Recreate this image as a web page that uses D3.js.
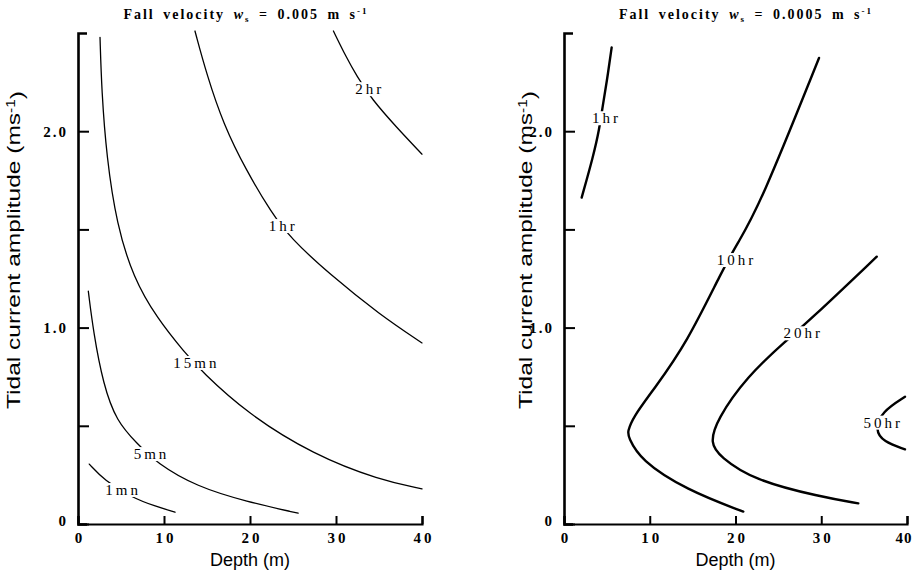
<!DOCTYPE html>
<html>
<head>
<meta charset="utf-8">
<script src="https://cdn.jsdelivr.net/npm/d3@7/dist/d3.min.js"></script>
<style>
  body { margin: 0; background: #fff; }
  svg { display: block; }
</style>
</head>
<body>
<svg id="chart" width="913" height="579"></svg>
<script>
// Time for suspended sediment to settle, as contours over
// water depth (m) and tidal current amplitude (m/s).

const depthTicks = [0, 10, 20, 30, 40];
const ampTicks = [0, 0.5, 1.0, 1.5, 2.0];
const ampTickLabels = ["0", "", "1.0", "", "2.0"];

// Fall velocity 0.005 m/s : [depth, amplitude]
const fast1mn = [[1.31, 0.305], [3.02, 0.224], [6.43, 0.131], [8.9, 0.092], [11.28, 0.06]];
const fast5mn = [[1.2, 1.185], [1.78, 0.981], [2.94, 0.709], [4.5, 0.522], [6.82, 0.412],
                 [9.15, 0.31], [13.8, 0.19], [19.6, 0.114], [25.6, 0.055]];
const fast15mn = [[2.56, 2.478], [2.75, 2.206], [3.33, 1.866], [4.5, 1.526], [6.43, 1.254],
                  [9.15, 1.05], [12.44, 0.871], [14.38, 0.777], [19.6, 0.565], [27.4, 0.352],
                  [35.1, 0.224], [40, 0.179]];
const fast1hr = [[13.6, 2.51], [14.96, 2.29], [16.9, 2.036], [19.6, 1.797], [22.5, 1.585],
                 [24.65, 1.458], [29.3, 1.27], [35.1, 1.066], [40, 0.922]];
const fast2hr = [[29.7, 2.51], [31.2, 2.376], [32.4, 2.282], [34.15, 2.163], [37.06, 2.019], [40, 1.883]];
const fastLabels = ["1mn", "5mn", "15mn", "1hr", "2hr"];
const fastLabelAt = [[5.08, 0.173], [8.37, 0.356], [13.6, 0.82], [23.7, 1.517], [33.76, 2.214]];

// Fall velocity 0.0005 m/s : [depth, amplitude]
const slow1hr = [[2.06, 1.662], [3.42, 1.874], [4.12, 2.01], [4.51, 2.129], [4.98, 2.248], [5.56, 2.427]];
const slow10hr = [[20.91, 0.063], [14.31, 0.173], [8.86, 0.326], [7.5, 0.445], [7.4, 0.468],
                  [8.08, 0.546], [10.41, 0.682], [14.31, 0.92], [18.58, 1.302],
                  [20.14, 1.421], [22.86, 1.624], [29.74, 2.373]];
const slow20hr = [[34.32, 0.105], [29.85, 0.139], [22.08, 0.224], [18.19, 0.343], [17.03, 0.411],
                  [17.81, 0.53], [21.31, 0.75], [25.97, 0.937], [28.49, 1.03],
                  [36.47, 1.361]];
const slow50hr = [[39.77, 0.648], [37.05, 0.572], [36.27, 0.479], [37.24, 0.419], [39.77, 0.38]];
const slowLabels = ["1hr", "10hr", "20hr", "50hr"];
const slowLabelAt = [[4.78, 2.066], [19.94, 1.344], [27.72, 0.971], [37.05, 0.516]];

const panels = [
  { ws: "0.005", left: 78, right: 422, curves: [fast1mn, fast5mn, fast15mn, fast1hr, fast2hr],
    labels: fastLabels, labelAt: fastLabelAt, lineWidth: 1.3, yTitleX: 20, titleX: 246 },
  { ws: "0.0005", left: 564, right: 907, curves: [slow1hr, slow10hr, slow20hr, slow50hr],
    labels: slowLabels, labelAt: slowLabelAt, lineWidth: 2.4, yTitleX: 532, titleX: 746 }
];

const plotTop = 33, plotBottom = 524;
const svg = d3.select("#chart");
const serif = "'Liberation Serif', 'Times New Roman', serif";
const sans = "'Liberation Sans', Arial, sans-serif";

panels.forEach((p, pi) => {
  const x = d3.scaleLinear().domain([0, 40]).range([p.left, p.right]);
  const y = d3.scaleLinear().domain([0, 2.5]).range([plotBottom, plotTop]);
  const g = svg.append("g");

  // contour lines
  const line = d3.line().x(d => x(d[0])).y(d => y(d[1])).curve(d3.curveBasis);
  g.selectAll("path.contour").data(p.curves).join("path")
    .attr("class", "contour")
    .attr("d", line)
    .attr("fill", "none")
    .attr("stroke", "#000")
    .attr("stroke-width", p.lineWidth)
    .attr("stroke-linecap", "round");

  // contour labels sit on a white patch that breaks the line
  p.labels.forEach((txt, i) => {
    const [dx, dy] = p.labelAt[i];
    const lg = g.append("g");
    const t = lg.append("text")
      .attr("x", x(dx) + 1.5).attr("y", y(dy))
      .attr("text-anchor", "middle")
      .attr("dominant-baseline", "central")
      .style("font-family", serif)
      .style("font-size", "15px")
      .style("letter-spacing", "3px")
      .text(txt);
    const b = t.node().getBBox();
    lg.insert("rect", "text")
      .attr("x", b.x - 1).attr("y", b.y + 1)
      .attr("width", b.width - 1).attr("height", b.height - 2)
      .attr("fill", "#fff");
  });

  // x axis with inward ticks
  const xAxis = d3.axisBottom(x).tickValues(depthTicks)
    .tickSizeInner(-8).tickSizeOuter(-8).tickPadding(8)
    .tickFormat(d => String(d));
  const xg = g.append("g").attr("transform", `translate(0,${plotBottom})`).call(xAxis);
  xg.select(".domain").attr("stroke-width", 2.2);
  xg.selectAll(".tick line").attr("stroke-width", 2);
  xg.selectAll(".tick text")
    .style("font-family", serif).style("font-size", "15px").style("font-weight", "bold")
    .style("letter-spacing", "3px")
    .attr("dx", "1.5px");
  if (pi === 1) {
    // last depth label kept inside the page edge
    xg.selectAll(".tick text").filter(d => d === 40)
      .style("letter-spacing", "1px").attr("text-anchor", "end").attr("dx", "5px");
  }

  // y axis with inward ticks
  const yAxis = d3.axisLeft(y).tickValues(ampTicks)
    .tickSizeInner(-11).tickSizeOuter(-9).tickPadding(10)
    .tickFormat((d, i) => ampTickLabels[i]);
  const yg = g.append("g").attr("transform", `translate(${p.left},0)`).call(yAxis);
  yg.select(".domain").attr("stroke-width", 2.6);
  yg.selectAll(".tick line").attr("stroke-width", 2);
  yg.selectAll(".tick text")
    .style("font-family", serif).style("font-size", "15px").style("font-weight", "bold")
    .style("letter-spacing", "2px");
  yg.selectAll(".tick text").filter(d => d === 0).attr("x", -10).attr("dy", "0.1em");

  // axis titles
  g.append("text")
    .attr("x", (p.left + p.right) / 2).attr("y", 566)
    .attr("text-anchor", "middle")
    .style("font-family", sans).style("font-size", "18px")
    .text("Depth (m)");

  const yt = g.append("text")
    .attr("transform", `translate(${p.yTitleX},250) rotate(-90)`)
    .attr("text-anchor", "middle")
    .attr("textLength", 318)
    .attr("lengthAdjust", "spacingAndGlyphs")
    .style("font-family", sans).style("font-size", "19px");
  yt.append("tspan").text("Tidal current amplitude (ms");
  yt.append("tspan").attr("dy", "-0.45em").style("font-size", "12px").text("-1");
  yt.append("tspan").attr("dy", "0.45em").text(")");

  // panel title
  const tt = g.append("text")
    .attr("x", p.titleX).attr("y", 19)
    .attr("text-anchor", "middle")
    .style("font-family", serif).style("font-size", "14px").style("font-weight", "bold")
    .style("letter-spacing", "2px").style("word-spacing", "3px");
  tt.append("tspan").text("Fall velocity ");
  tt.append("tspan").style("font-style", "italic").text("w");
  tt.append("tspan").attr("dy", "3").style("font-size", "9px").text("s");
  tt.append("tspan").attr("dy", "-3").text(" = " + p.ws + " m s");
  tt.append("tspan").attr("dy", "-5").style("font-size", "9px").text("-1");
});
</script>
</body>
</html>
